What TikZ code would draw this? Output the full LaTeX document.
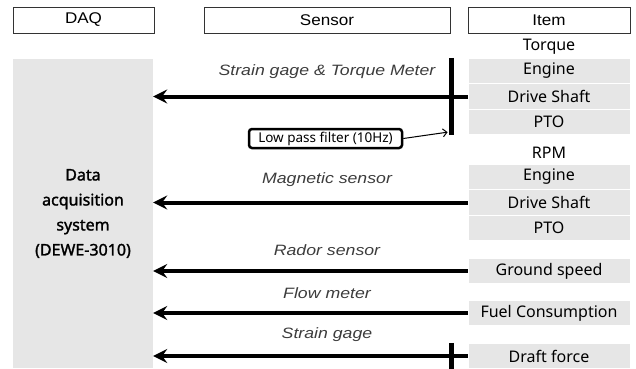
\documentclass[tikz,border=0pt]{standalone}
\usepackage{fontspec}
\setmainfont{Noto Sans}
\newfontfamily\daqfont[FakeBold=1.6]{Noto Sans}
\newfontfamily\headfont[FakeStretch=1.1]{Liberation Sans}
\newfontfamily\sensfont[FakeStretch=1.18]{Liberation Sans}
\usetikzlibrary{arrows.meta}

\definecolor{boxgray}{HTML}{E6E6E6}
\definecolor{labelgray}{HTML}{3C3C3C}

\tikzset{
  header/.style={draw=black!80, line width=0.8pt, minimum height=26pt,
    inner sep=0pt, font=\headfont\fontsize{15.5}{17}\selectfont},
  daqbox/.style={fill=boxgray, minimum width=140pt, minimum height=309pt,
    inner sep=0pt, align=center, font=\daqfont\fontsize{16}{25}\selectfont},
  itembox/.style={fill=boxgray, draw=white, line width=0.8pt,
    minimum width=162pt, minimum height=25.5pt, inner sep=0pt,
    font=\fontsize{16}{18}\selectfont},
  group/.style={font=\fontsize{16}{18}\selectfont},
  sensor/.style={text=labelgray, font=\sensfont\itshape\fontsize{15}{17}\selectfont},
  filter/.style={draw, line width=2.5pt, rounded corners=3pt,
    minimum width=153pt, minimum height=19pt, inner sep=0pt,
    font=\fontsize{13.5}{15}\selectfont},
  signal/.style={line width=4pt, -{Stealth[length=14pt,width=14pt,inset=5pt]}},
  bar/.style={line width=5pt},
}

\begin{document}
\begin{tikzpicture}[x=1pt,y=-1pt]
  \useasboundingbox (0,0) rectangle (636,368);

  % header boxes
  \node[header, minimum width=141pt] (hdaq)  at (83.5,20) {DAQ};
  \node[header, minimum width=246pt] (hsens) at (327,20)  {Sensor};
  \node[header, minimum width=162pt] (hitem) at (549,20)  {Item};

  % data acquisition block
  \node[daqbox] (daq) at (83,213.5) {Data\\acquisition\\system\\(DEWE-3010)};

  % torque items
  \node[group] (torque) at (549,47) {Torque};
  \node[itembox] (eng1) at (549,71)   {Engine};
  \node[itembox] (drv1) at (549,96.5) {Drive Shaft};
  \node[itembox] (pto1) at (549,122)  {PTO};

  % rpm items
  \node[group] (rpm) at (549,153) {RPM};
  \node[itembox] (eng2) at (549,177)   {Engine};
  \node[itembox] (drv2) at (549,202.5) {Drive Shaft};
  \node[itembox] (pto2) at (549,228)   {PTO};

  % single items
  \node[itembox] (gnd)   at (549,271) {Ground speed};
  \node[itembox] (fuel)  at (549,313) {Fuel Consumption};
  \node[itembox] (draft) at (549,356) {Draft force};

  % sensor labels
  \node[sensor] (sgtm)  at (327,72)  {Strain gage \& Torque Meter};
  \node[sensor] (mag)   at (327,180) {Magnetic sensor};
  \node[sensor] (rador) at (327,250) {Rador sensor};
  \node[sensor] (flow)  at (327,293) {Flow meter};
  \node[sensor] (sg)    at (327,335) {Strain gage};

  % low pass filter
  \node[filter] (lpf) at (325.5,138.5) {Low pass filter (10Hz)};

  % signal arrows
  \foreach \src in {drv1,drv2,gnd,fuel,draft}
    \draw[signal] (\src.west) -- (\src.west -| daq.east);

  % sensor bars
  \coordinate (tqtop) at ([xshift=-16pt]eng1.north west);
  \coordinate (tqbot) at ([xshift=-16pt]pto1.south west);
  \draw[bar] (tqtop) -- (tqbot);
  \coordinate (dftop) at ([xshift=-16pt]draft.north west);
  \coordinate (dfbot) at ([xshift=-16pt]draft.south west);
  \draw[bar] (dftop) -- (dfbot);

  % filter arrow
  \coordinate (lpfin) at ([xshift=-20pt,yshift=3pt]pto1.south west);
  \draw[line width=1pt, -{Straight Barb[length=4pt,width=8pt]}] (lpf.east) -- (lpfin);

\end{tikzpicture}
\end{document}
